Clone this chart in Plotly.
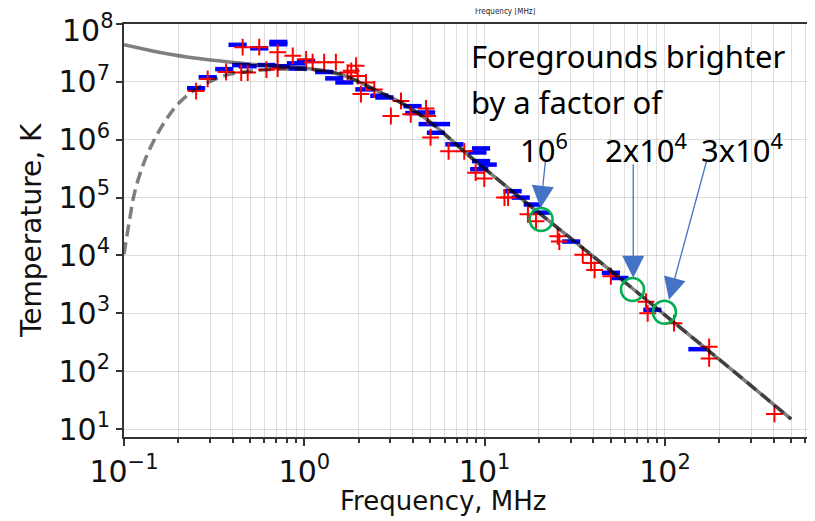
import numpy as np
import plotly.graph_objects as go

# all values are log10: frequency in MHz, temperature in K
solid_logf = [-1.0, -0.835, -0.65, -0.465, -0.28, -0.095, 0.05, 0.18, 0.275, 0.40, 0.53, 0.63,
              0.72, 0.81, 0.90, 1.0, 1.2, 1.4, 1.6, 1.8, 2.0, 2.2, 2.4, 2.6, 2.7]
solid_logT = [7.64, 7.53, 7.43, 7.36, 7.30, 7.26, 7.22, 7.15, 7.04, 6.85, 6.65, 6.46,
              6.25, 6.01, 5.76, 5.50, 4.99, 4.49, 3.99, 3.48, 2.97, 2.46, 1.95, 1.43, 1.17]

dashed_logf = [-1.0, -0.97, -0.94, -0.89, -0.835, -0.77, -0.70, -0.61, -0.52, -0.43, -0.29, -0.15,
               -0.02, 0.13, 0.275, 0.40, 0.53, 0.63, 0.72, 0.81, 0.90, 1.0, 1.2, 1.4, 1.6, 1.8,
               2.0, 2.2, 2.4, 2.6, 2.7]
dashed_logT = [4.02, 4.60, 5.10, 5.60, 5.98, 6.33, 6.62, 6.86, 7.01, 7.12, 7.19, 7.22,
               7.22, 7.18, 7.04, 6.85, 6.65, 6.46, 6.25, 6.01, 5.76, 5.50, 4.99, 4.49, 3.99, 3.48,
               2.97, 2.46, 1.95, 1.43, 1.17]

blue_logf = [-0.60, -0.536, -0.444, -0.37, -0.25, -0.144, -0.144, -0.35, -0.314, -0.21, -0.13, -0.046,
             0.01, -0.037, 0.11, 0.166, 0.222, 0.333, 0.416, 0.444, 0.60, 0.61, 0.675, 0.684,
             0.758, 0.73, 0.832, 0.98, 0.96, 0.98, 0.97, 1.017, 1.155, 1.20, 1.267, 1.313,
             1.48, 1.70, 1.747, 1.93, 2.18]
blue_logT = [6.89, 7.08, 7.22, 7.64, 7.58, 7.65, 7.69, 7.29, 7.27, 7.29, 7.27, 7.32,
             7.36, 7.23, 7.17, 7.06, 6.99, 6.87, 6.76, 6.73, 6.58, 6.46, 6.47, 6.27,
             6.27, 6.12, 5.92, 5.85, 5.78, 5.63, 5.49, 5.57, 5.11, 5.00, 4.88, 4.74,
             4.24, 3.70, 3.61, 3.06, 2.38]

red_logf = [-0.60, -0.536, -0.434, -0.342, -0.25, -0.148, -0.35, -0.314, -0.21, -0.148, -0.064, 0.01,
            0.046, 0.11, 0.175, 0.287, 0.26, 0.24, 0.296, 0.342, 0.314, 0.388, 0.48, 0.536,
            0.59, 0.675, 0.684, 0.70, 0.80, 0.887, 0.95, 0.998, 1.11, 1.13, 1.24, 1.285,
            1.405, 1.414, 1.544, 1.59, 1.61, 1.70, 1.895, 1.904, 2.05, 2.245, 2.245, 2.607]
red_logT = [6.84, 7.05, 7.17, 7.60, 7.60, 7.51, 7.16, 7.16, 7.21, 7.23, 7.45, 7.39,
            7.34, 7.34, 7.34, 7.28, 7.19, 7.16, 7.10, 6.99, 6.79, 6.87, 6.41, 6.67,
            6.44, 6.54, 6.41, 6.04, 5.80, 5.80, 5.43, 5.33, 5.00, 5.00, 4.71, 4.59,
            4.33, 4.24, 4.01, 3.87, 3.75, 3.64, 3.20, 3.00, 2.83, 2.42, 2.22, 1.26]

circle_logf = [1.313, 1.82, 1.997]
circle_logT = [4.62, 3.41, 3.02]

factors = ["10<sup>6</sup>", "2x10<sup>4</sup>", "3x10<sup>4</sup>"]
y_exponents = [1, 2, 3, 4, 5, 6, 7, 8]


def lin(v):
    return 10 ** np.array(v)


fig = go.Figure()

fig.add_trace(go.Scatter(x=lin(blue_logf), y=lin(blue_logT), mode="markers",
                         marker=dict(symbol="line-ew", size=13, line=dict(color="#0000ff", width=4.5))))
fig.add_trace(go.Scatter(x=lin(red_logf), y=lin(red_logT), mode="markers",
                         marker=dict(symbol="cross-thin", size=12, line=dict(color="#ff0000", width=2))))
fig.add_trace(go.Scatter(x=lin(solid_logf), y=lin(solid_logT), mode="lines",
                         line=dict(color="rgba(0,0,0,0.5)", width=3.5, shape="spline")))
fig.add_trace(go.Scatter(x=lin(dashed_logf), y=lin(dashed_logT), mode="lines",
                         line=dict(color="rgba(0,0,0,0.5)", width=3.5, shape="spline", dash="12px,6px")))
fig.add_trace(go.Scatter(x=lin(circle_logf), y=lin(circle_logT), mode="markers",
                         marker=dict(symbol="circle-open", size=23, color="#00b050",
                                     line=dict(color="#00b050", width=2.5))))

tick_font = dict(family="DejaVu Sans", size=30, color="#111111")
grid = "rgba(0,0,0,0.13)"

fig.update_xaxes(
    type="log", range=[-1, 2.832], automargin=False,
    tickvals=[0.1, 1, 10, 100],
    ticktext=["10<sup>−1</sup>", "10<sup>0</sup>", "10<sup>1</sup>", "10<sup>2</sup>"],
    ticks="outside", ticklen=7, tickwidth=1.5, tickcolor="#333333",
    showline=True, linecolor="#333333", linewidth=2, mirror=True,
    showgrid=True, gridcolor=grid, gridwidth=1.3,
    minor=dict(tickvals=[m * 10.0 ** e for e in range(-1, 3) for m in range(2, 10)],
               ticks="outside", ticklen=4, tickcolor="#333333", showgrid=True,
               gridcolor=grid, gridwidth=1.3),
    tickfont=tick_font, zeroline=False,
)
# top label (10^8) sits at the very edge, plotly drops it, so it is written as an annotation below
fig.update_yaxes(
    type="log", range=[0.862, 8.0], automargin=False,
    tickvals=[10 ** k for k in y_exponents],
    ticktext=["10<sup>%d</sup>" % k if k < 8 else "" for k in y_exponents],
    ticks="outside", ticklen=6, tickwidth=1.5, tickcolor="#333333",
    showline=True, linecolor="#333333", linewidth=2, mirror=False,
    showgrid=True, gridcolor=grid, gridwidth=1.3,
    tickfont=tick_font, zeroline=False,
)

ann = []
ann.append(dict(x=0, y=y_exponents[-1], xref="paper", yref="y", text="10<sup>8</sup>",
                showarrow=False, xanchor="right", yanchor="middle", xshift=-8, yshift=-4,
                font=tick_font))
txt = dict(family="Noto Sans", size=31, color="#000000")
ann.append(dict(x=0.911, y=7.44, xref="x", yref="y", text="Foregrounds brighter",
                showarrow=False, xanchor="left", yanchor="middle", font=txt))
ann.append(dict(x=0.911, y=6.66, xref="x", yref="y", text="by a factor of",
                showarrow=False, xanchor="left", yanchor="middle", font=txt))
for xl, t in zip([1.183, 1.654, 2.189], factors):
    ann.append(dict(x=xl, y=5.85, xref="x", yref="y", text=t,
                    showarrow=False, xanchor="left", yanchor="middle", font=txt))

# blue arrows pointing at the circles
for tx, ty, dx, dy in [(1.310, 4.82, 5, -48), (1.824, 3.614, 0, -115), (2.022, 3.234, 38, -140)]:
    ann.append(dict(x=tx, y=ty, xref="x", yref="y", text="", showarrow=True,
                    ax=dx, ay=dy, arrowcolor="#4472c4", arrowwidth=1.3,
                    arrowhead=2, arrowsize=3.4, standoff=0))

ann.append(dict(x=0.552, y=1.047, xref="paper", yref="paper", text="Frequency [MHz]",
                showarrow=False,
                font=dict(family="DejaVu Sans Condensed, Liberation Sans", size=8, color="#222222")))
ann.append(dict(x=0.462, y=-0.155, xref="paper", yref="paper", text="Frequency, MHz",
                showarrow=False, xanchor="center", yanchor="middle",
                font=dict(family="DejaVu Sans", size=26, color="#111111")))
ann.append(dict(x=-0.1338, y=0.5, xref="paper", yref="paper", text="Temperature, K",
                showarrow=False, textangle=-90, xanchor="center", yanchor="middle",
                font=dict(family="DejaVu Sans", size=28, color="#111111")))

# the page body adds an 8px offset, so the figure is 8px smaller and margins shifted
fig.update_layout(
    width=807, height=513,
    margin=dict(l=116, r=0, t=16, b=84),
    paper_bgcolor="white", plot_bgcolor="white",
    showlegend=False,
    annotations=ann,
)

fig.write_html("out.html")
